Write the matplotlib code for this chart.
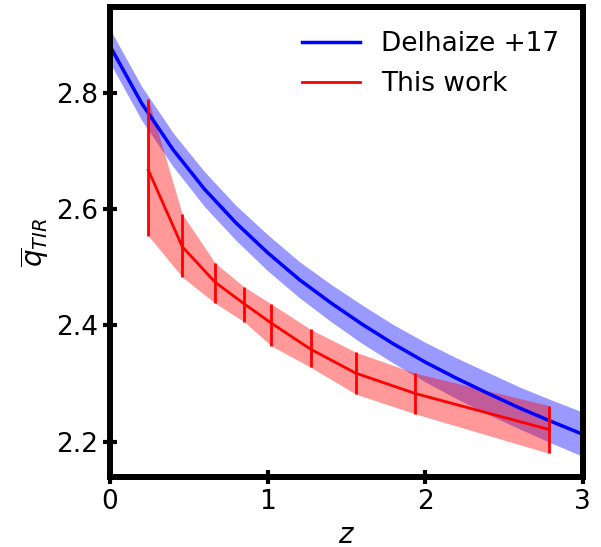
import matplotlib
matplotlib.use("Agg")
import matplotlib.pyplot as plt

# Delhaize+17 relation
z_d17 = [0.0, 0.2, 0.4, 0.6, 0.8, 1.0, 1.2, 1.4, 1.6, 1.8, 2.0, 2.2, 2.4, 2.6, 2.8, 3.0]
q_d17 = [2.880, 2.782, 2.702, 2.634, 2.576, 2.525, 2.479, 2.439,
         2.402, 2.368, 2.337, 2.309, 2.283, 2.258, 2.235, 2.213]
q_d17_hi = [2.909, 2.811, 2.731, 2.664, 2.606, 2.556, 2.510, 2.471,
            2.435, 2.401, 2.371, 2.344, 2.319, 2.294, 2.272, 2.251]
q_d17_lo = [2.851, 2.753, 2.673, 2.604, 2.546, 2.494, 2.448, 2.407,
            2.369, 2.335, 2.303, 2.274, 2.247, 2.222, 2.198, 2.175]

# this work
z_tw = [0.243, 0.459, 0.668, 0.852, 1.023, 1.274, 1.559, 1.937, 2.788]
q_tw = [2.667, 2.535, 2.474, 2.437, 2.404, 2.359, 2.318, 2.283, 2.221]
q_tw_hi = [2.789, 2.591, 2.507, 2.466, 2.437, 2.393, 2.354, 2.318, 2.262]
q_tw_lo = [2.554, 2.483, 2.438, 2.406, 2.365, 2.328, 2.282, 2.248, 2.180]

fig = plt.figure(figsize=(6.01, 5.47), dpi=100)
ax = fig.add_axes([0.183, 0.1274, 0.7866, 0.8598])

ax.fill_between(z_d17, q_d17_lo, q_d17_hi, color="blue", alpha=0.4, lw=0)
ax.plot(z_d17, q_d17, color="blue", lw=2.5, label="Delhaize +17")

ax.fill_between(z_tw, q_tw_lo, q_tw_hi, color="red", alpha=0.4, lw=0)
ax.plot(z_tw, q_tw, color="red", lw=2, label="This work")
ax.vlines(z_tw, q_tw_lo, q_tw_hi, color="red", lw=2)

ax.set_xlim(0, 3)
ax.set_ylim(2.139, 2.947)
ax.set_xticks([0, 1, 2, 3])
ax.set_yticks([2.2, 2.4, 2.6, 2.8])
ax.tick_params(direction="inout", length=10, width=3, labelsize=19)
for s in ax.spines.values():
    s.set_linewidth(4.3)

ax.set_xlabel(r"$z$", fontsize=20)
ax.set_ylabel(r"$\overline{q}_{TIR}$", fontsize=20)

ax.legend(loc="upper right", frameon=False, fontsize=19, handlelength=2.2,
          labelspacing=0.55)

fig.savefig("out.png", dpi=100)
